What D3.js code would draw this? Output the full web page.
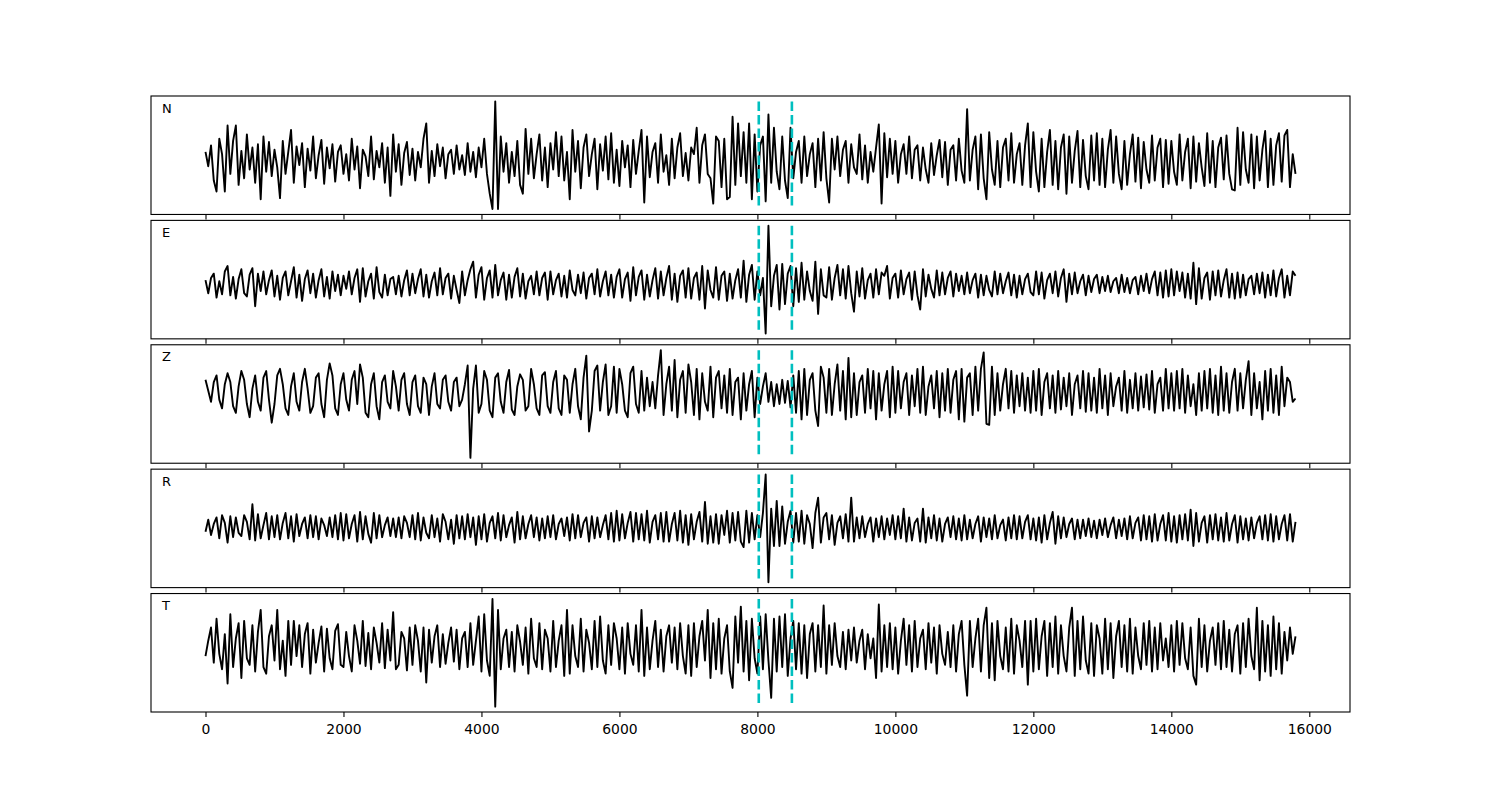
<!DOCTYPE html>
<html>
<head>
<meta charset="utf-8">
<script src="https://cdn.jsdelivr.net/npm/d3@7"></script>
<style>
  body { margin: 0; background: #fff; }
  svg { display: block; }
</style>
</head>
<body>
<script>
// components, top to bottom
const components = ['N', 'E', 'Z', 'R', 'T']

// sample spacing of the traces below (samples)
const dt = 40

// picks (dashed cyan lines)
const picks = [8020, 8500]

const xTicks = [0, 2000, 4000, 6000, 8000, 10000, 12000, 14000, 16000]

// one row = 1000 samples
const traceN = [
  8, -5, 14, -18, -28, 20, 6, -28, 32, -12, 18, 32, -22, 9, -16, 24, -8, 12, -20, 15, -35, 22, -10, 17, -14,
  10, -6, -34, 18, -12, 8, 28, -20, 13, -4, 16, -24, 11, -9, 22, -16, 5, 19, -21, 12, -7, 15, -19, 8, 14,
  -12, 6, -18, 20, -8, 13, -25, 10, 4, -14, 22, -17, 9, -6, 16, -20, 12, -32, 24, -10, 15, -22, 7, 17, -13,
  11, -18, 8, -6, 20, 34, -20, 9, -14, 15, -5, 12, -16, 6, 10, -12, 14, -8, 5, -13, 16, -10, 8, -15, 12,
  -6, 20, -12, -30, -44, 54, -44, 22, -10, 16, -20, 8, -14, 18, -22, -30, 29, -12, 20, -16, 6, 24, -18, 12, -24,
  16, -8, 26, -14, 22, -18, 8, -35, 28, -10, 18, -25, 12, 24, -14, 6, 20, -26, 15, -9, 22, -17, 25, -20, 10,
  -23, 18, -6, 14, -24, 19, -12, 9, 28, -38, 22, -15, 8, 16, -20, 24, -10, 5, -22, 20, -16, 12, 25, -14, 7,
  -18, 12, 6, 30, -20, 14, 24, -12, -16, -39, 22, 18, -24, 20, -35, -33, 40, -22, 34, -14, 26, -20, 34, -35, 24,
  -28, 14, 22, -37, 42, -20, 30, -10, -26, 22, -18, -34, 30, -16, 8, 18, -20, 22, -14, 6, 16, -24, 20, -18, 26,
  -16, -38, 20, -8, 22, -14, 10, 18, -20, 15, -6, -12, 24, -17, 14, -20, 8, -10, 12, 33, -39, 25, -15, 20, -12,
  18, -20, 6, 15, -12, 22, -16, 10, 14, -18, 12, -8, -20, 16, -13, 5, 19, -15, 17, -22, 10, 14, -18, 20, -9,
  -20, 47, -18, 10, 22, -26, 24, -16, -35, 26, -8, -22, 18, -24, 12, 20, -18, 25, -20, 6, 16, -22, 14, 34, -24,
  26, -10, -28, 20, -24, 8, 28, -22, 18, -26, 12, 24, -30, 22, -20, 9, 27, -24, 19, -14, -26, 23, -18, 25, -22,
  20, -24, 10, 28, -20, 22, -12, -26, 18, -22, 6, 24, -19, 21, -25, 17, -8, -20, 23, -18, 12, 20, -24, 19, -21,
  18, -10, -22, 24, -18, 8, 20, -25, 22, -19, 16, -6, -23, 25, -20, 18, -24, 12, 21, -17, 23, -12, -26, -27, 30,
  -22, 26, -8, -20, 24, -25, 22, -18, 10, 27, -24, 20, -22, 14, 25, -19, 23, 28, -24, 6, -12
]

const traceE = [
  4, -8, 6, 10, -12, 3, -9, 12, 17, -10, 7, -13, 5, 14, -8, -11, 9, 15, -20, 10, -6, 12, -9, 4, 13,
  -11, 8, -14, 6, 12, -10, 3, 16, -12, 9, -15, 5, 13, -8, 10, -12, 4, 14, -11, 7, -13, 12, -6, 9, -10,
  8, -4, 12, -9, 6, 14, -16, 15, -11, 3, 10, -13, 16, -7, -12, 9, -10, 5, 7, -9, 8, -11, 4, 13, -10,
  10, -8, 5, 14, -11, 9, -12, 3, 11, -10, 15, -9, 6, 10, -13, 8, -5, -17, 12, -10, 4, 14, 21, -12, 9,
  16, -14, 6, 13, -12, 18, -10, 4, 11, -14, 9, -12, 7, 15, -11, 10, -13, 3, 8, -9, 12, -10, 6, 11, -14,
  12, -9, 4, 10, -11, 8, -12, 13, -5, -10, 9, -8, 11, -13, 6, 10, -9, 14, -11, 3, 12, -10, 9, -12, 7,
  14, -12, 5, 11, -15, 16, -10, 7, 13, -14, 9, -11, 4, 15, -13, 12, -10, 6, 17, -14, 10, -16, 8, 13, -12,
  15, -13, 6, 11, -14, 17, -22, 13, -5, -12, 16, -14, 8, 12, -15, 10, -13, 4, 14, -12, 22, -16, 9, 18, -14,
  12, -10, 6, -45, 54, -20, 8, 18, -23, 19, -18, 10, 17, -20, 15, -16, 20, -14, 12, -6, -15, 21, -27, 14, -10,
  -12, 16, -14, 6, 18, -10, 14, -13, 17, -8, -25, 12, -11, 15, -13, 4, 10, -12, 14, -9, 11, 8, 17, -13, 6,
  10, -12, 13, -9, 5, 11, -14, 12, -10, -23, 14, -11, 9, -4, -12, 13, -10, 11, -9, 6, 12, -11, 10, -6, 8,
  -9, 11, -8, 4, 10, -12, 9, -10, 8, -5, -11, 12, -9, 10, -8, 3, 11, -10, 9, -12, 8, -9, 5, 10, -7,
  -10, 12, -9, 11, -13, 4, 10, -8, 12, -11, 6, 14, -16, 10, -9, 11, -8, 3, 9, -10, 8, -7, 5, 9, -8,
  7, -6, 8, -7, 3, 6, -8, 9, -7, 6, -8, 4, 7, -9, 8, -6, 10, -8, 5, 12, -10, 11, -12, 13, -11,
  14, -10, 12, -6, 11, -12, 10, -13, 20, -18, 15, -13, 6, 11, -14, 12, -10, 13, -11, 4, 14, -12, 10, -13, 11,
  -12, 9, -10, 5, 8, -9, 10, -8, 11, -12, 9, -10, 13, -11, 6, 14, -12, 8, -10, 12, 8
]

const traceZ = [
  12, 2, -8, 10, 16, -6, -14, 8, 18, 10, -12, -18, 6, 20, 12, -10, -22, 4, 16, -8, -16, 14, 20, -6, -27,
  -10, 16, 22, 8, -14, -20, 6, 18, -8, -16, 10, 22, 4, -18, -12, 14, 18, -10, -22, 12, 27, 16, -14, -20, 8,
  18, -6, -16, 12, 20, -10, 26, 14, -18, -22, 8, 18, -12, -24, 10, 16, -8, -14, 20, 6, -16, 12, 18, -10, -20,
  10, 16, -12, -18, 14, 8, -20, 6, 18, -10, -14, 12, 16, -8, -16, 10, 14, -12, -6, 8, 25, -59, 4, 25, -18,
  -10, 20, 12, -16, -22, 14, 18, -8, -18, 10, 21, -15, -20, 6, 17, 12, -16, -12, 22, 8, -14, -20, 16, 19, -12,
  -18, 10, 20, -14, -20, 16, 12, -18, 8, 22, -12, -24, 14, 34, -35, -16, 20, 25, -16, 10, 26, -20, -12, 24, -18,
  22, 8, -16, -22, 18, 24, -10, -18, 20, -16, 14, -12, 10, -14, 16, 39, -20, 8, 24, -16, 30, -22, 12, 20, -18,
  26, 10, -20, 22, -24, 18, -8, -16, 24, -22, 14, 20, -14, 16, -18, 22, -20, 10, 14, -24, 18, -16, 8, 20, -22,
  14, -10, 6, 18, -8, 10, -12, 8, -10, 12, -9, 11, -13, 16, -18, 20, -24, 22, -20, 12, 18, -16, -30, 24, 14,
  -18, 22, -20, 8, 26, -16, 20, -24, 32, -22, 18, -20, 10, 16, -18, 22, -14, 20, -24, 18, -16, 8, 20, -22, 24,
  -18, 20, -14, 10, 18, -20, 16, -12, 22, -18, 24, -20, 6, 16, -14, 20, -22, 18, -16, 22, -18, 12, 20, -24, 22,
  -26, 14, 18, -20, 24, -16, 22, 37, -28, -29, 24, -20, 18, -16, 8, 22, -14, 20, -18, 16, -12, 18, -16, 14, -18,
  20, -16, 22, -20, 10, 18, -14, 16, -18, 20, -15, 14, -12, 18, -20, 8, 16, -14, 20, -17, 18, -16, 14, -18, 22,
  -14, 16, -20, 18, -12, 6, 14, -16, 20, -18, 12, -14, 18, -16, 15, -13, 17, -15, 20, -18, 8, 14, -16, 22, -14,
  18, -16, 20, -14, 22, -18, 16, -12, 8, -20, 18, -16, 20, -14, 22, -18, 16, -20, 24, -16, 18, -18, 10, 22, -16,
  18, -14, 12, 29, -20, 18, -14, 10, -24, 20, -16, 22, -18, 16, -20, 24, -12, 14, 10, -8, -5
]

const traceR = [
  -3, 8, -6, 4, 10, -9, 12, 5, -13, 11, -8, 10, -4, -7, 12, 6, -10, 22, -11, 13, -9, 3, 14, -10, 11,
  -8, 12, -10, 5, 14, -9, 11, -12, 13, -7, 4, 10, -9, 12, -8, 11, -10, 9, 3, -7, 10, -8, 12, -10, 14,
  -11, 13, -9, 4, 12, -12, 15, -10, 11, -5, -13, 14, -9, 12, -8, 3, 10, -7, 9, -8, 10, -9, 11, 5, -8,
  12, -10, 14, -11, 10, -4, -9, 12, -8, 9, -12, 13, 6, -10, 8, -14, 12, -9, 11, -10, 13, -8, 10, -15, 11,
  -10, 13, -12, 5, 11, -9, 14, -11, 12, -8, 3, 10, -13, 15, -10, 11, -9, 4, 12, -8, 10, -11, 9, -9, 11,
  -8, 12, -10, 4, 9, -7, 10, -11, 13, -9, 12, -8, 5, 10, -12, 11, -9, 10, -8, 3, 12, -10, 14, -12, 16,
  -11, 13, -9, 5, 15, -12, 14, -10, 13, -11, 16, -13, 6, 12, -10, 14, -12, 15, -12, 4, 14, -11, 16, -13, 12,
  -15, 13, -10, 6, 15, -12, 24, -14, 11, -13, 13, -14, 12, -6, 16, -13, 14, -11, 15, -12, -17, 16, -13, 14, -10,
  12, -8, 14, 49, -49, 18, -16, 25, -16, 20, -14, 6, 16, -13, 14, -12, 16, -14, 12, 4, -18, 14, 28, -13, 10,
  14, -10, 12, -15, 5, 11, -9, 13, -12, 28, -12, 10, -9, 11, -8, 4, 10, -12, 9, -8, 11, -10, 9, -6, 12,
  -10, 11, -9, 18, -12, 10, -11, 5, 9, -12, 18, -13, 10, -9, 12, -11, 9, -12, 4, 10, -8, 11, -10, 9, -11,
  12, -10, 8, -9, 4, 11, -12, 10, -8, 9, -10, 12, -9, 3, 8, -11, 10, -9, 12, -10, 11, -9, 6, 12, -10,
  9, -11, 10, -13, 12, -10, 5, 15, -14, 11, -9, 10, -8, 4, 9, -10, 8, -9, 8, -7, 9, -8, 7, -9, 8,
  -6, 9, -8, 3, 10, -9, 8, -7, 9, -10, 11, -9, 5, 10, -11, 12, -10, 11, -12, 13, -11, 4, 12, -11, 14,
  -12, 11, -13, 12, -10, 13, -11, 17, -16, 14, -12, 5, 11, -13, 12, -10, 13, -11, 10, -12, 14, -11, 4, 12, -13,
  11, -10, 9, -11, 10, -9, 5, 11, -10, 12, -11, 13, -12, 11, -10, 4, 12, -11, 13, -12, 6
]

const traceT = [
  -8, 6, 18, -14, 26, -6, -20, 12, -33, 30, -18, 8, 22, -28, 24, -10, -16, 20, -22, 14, 34, -18, -24, 10, 20,
  -12, 34, -20, 6, -26, 24, -16, 24, -8, 20, -18, 12, 22, -24, 16, -14, 4, 19, -22, 17, -10, -20, 15, 21, -16,
  -18, 14, -8, -22, 20, 6, -15, 24, -17, 13, -20, 18, 4, -14, 22, -19, 16, -12, 32, -20, -16, 14, 8, -21, 18,
  -16, 20, 6, -22, 18, -32, 16, -14, 10, 20, -18, 12, -15, 4, 18, -13, 16, -20, 8, 14, -18, 22, -16, 6, 28,
  -22, 30, -12, -26, 44, -54, 34, -20, 8, 16, -18, 14, -22, 20, 5, -16, 18, -24, 26, -10, -18, 22, -20, 16, 8,
  -22, 24, -18, 6, 20, -26, 34, -24, 20, -8, -18, 26, -22, 16, 4, -20, 24, -18, 28, -12, -24, 20, -16, 22, 8,
  -20, 18, -24, 22, -6, -16, 20, -22, 34, -26, 18, -20, 6, 24, -18, 16, -22, 10, 20, -14, 18, -20, 22, -8, -24,
  20, -26, 22, -18, 10, 24, -12, 34, -28, 22, -20, 26, -24, 8, 20, -22, -37, 28, -14, 37, -22, 24, -30, 26, -10,
  -24, 28, -20, 30, -12, -46, 26, -22, 28, -18, 30, -26, 8, 24, -20, 22, -24, 20, -28, 12, 22, -22, 20, -18, 38,
  -24, 20, -16, 22, -8, -18, 14, -20, 16, -12, 18, -14, 6, 16, -20, 12, -10, 8, -28, 39, -22, 20, -18, 22, -20,
  18, -24, 6, 26, -16, 20, -22, 24, -18, 8, 16, -20, 22, -14, 18, -24, 20, -6, -16, 14, -18, 20, -22, 12, 24,
  -16, -44, 24, -18, 8, 26, -22, 20, 36, -28, 22, -30, 24, -8, -20, 18, -22, 26, -24, 20, 6, -18, 24, -34, 24,
  -22, 26, -20, 10, 24, -26, 22, -18, 28, -24, 20, -8, -22, 18, 36, -26, 24, -20, 28, -12, -24, 22, -26, 20, 8,
  -24, 26, -20, 22, -28, 10, 24, -18, 20, -22, 26, -24, 18, -8, -20, 22, -16, 24, -22, 18, -20, 22, -12, 8, -18,
  20, -22, 24, -16, 22, -10, -20, 18, -26, -34, 26, -18, 20, -22, 6, 18, -16, 22, -20, 24, -18, 16, -22, 12, 20,
  -24, 22, -18, 26, -8, -20, 36, -30, 24, -22, 20, -26, 28, -20, 22, -24, 14, -12, 18, -6, 10
]

const traces = [traceN, traceE, traceZ, traceR, traceT]


const createSVG = (width, height) => {
  const svg = d3.create('svg')
  svg
    .attr('width', width)
    .attr('height', height)
    .attr('viewBox', [0, 0, width, height])
    .attr('font-family', 'DejaVu Sans')
  return svg
}

const width = 1500
const height = 800
const plotLeft = 151
const plotRight = 1350
const plotTop = 96
const plotBottom = 712
const hspace = 0.05
const panelHeight = (plotBottom - plotTop) / (traces.length + hspace * (traces.length - 1))
const gap = panelHeight * hspace

const svg = createSVG(width, height)
svg.append('rect').attr('width', width).attr('height', height).attr('fill', '#fff')

const x = d3.scaleLinear().domain([-790, 16590]).range([plotLeft, plotRight])

traces.forEach((trace, i) => {
  const y0 = plotTop + i * (panelHeight + gap)
  const [lo, hi] = d3.extent(trace)
  const pad = (hi - lo) * 0.05
  const y = d3.scaleLinear().domain([lo - pad, hi + pad]).range([y0 + panelHeight, y0])

  const g = svg.append('g')

  g.append('path')
    .datum(trace)
    .attr('fill', 'none')
    .attr('stroke', '#000')
    .attr('stroke-width', 1.9)
    .attr('stroke-linejoin', 'round')
    .attr('d', d3.line().x((d, j) => x(j * dt)).y(d => y(d)))

  g.selectAll('.pick')
    .data(picks)
    .join('line')
      .attr('class', 'pick')
      .attr('x1', d => x(d))
      .attr('x2', d => x(d))
      .attr('y1', y(hi))
      .attr('y2', y(lo))
      .attr('stroke', '#00bfbf')
      .attr('stroke-width', 2.6)
      .attr('stroke-dasharray', '9.5 4')

  g.append('rect')
    .attr('x', plotLeft)
    .attr('y', y0)
    .attr('width', plotRight - plotLeft)
    .attr('height', panelHeight)
    .attr('fill', 'none')
    .attr('stroke', '#000')
    .attr('stroke-width', 1.1)

  const axis = g.append('g')
    .attr('transform', `translate(0,${y0 + panelHeight})`)
    .call(d3.axisBottom(x)
      .tickValues(xTicks)
      .tickSize(5)
      .tickPadding(7)
      .tickFormat(i === traces.length - 1 ? d3.format('d') : ''))
    .attr('font-family', 'DejaVu Sans')
    .attr('font-size', 13.9)
  axis.select('.domain').remove()
  axis.selectAll('.tick line').attr('stroke', '#000').attr('stroke-width', 1.1)
  axis.selectAll('.tick text').attr('fill', '#000')

  g.append('text')
    .attr('x', 162)
    .attr('y', y0 + 16.5)
    .attr('font-family', 'DejaVu Sans')
    .attr('font-size', 13)
    .attr('fill', '#000')
    .text(components[i])
})

document.body.appendChild(svg.node())
</script>
</body>
</html>
